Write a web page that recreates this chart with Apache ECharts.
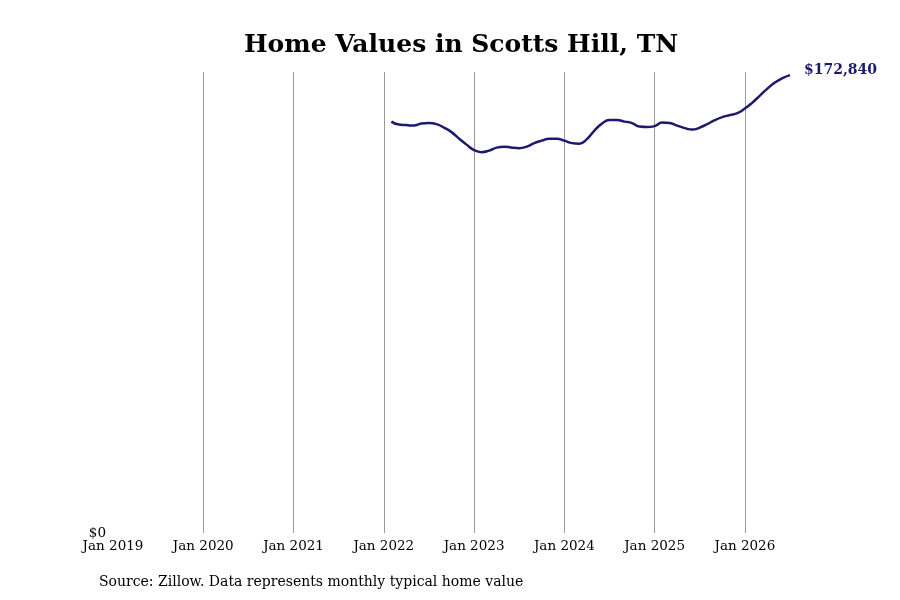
<!DOCTYPE html>
<html>
<head>
<meta charset="utf-8">
<script src="https://cdn.jsdelivr.net/npm/echarts@6/dist/echarts.min.js"></script>
<style>html,body{margin:0;padding:0;background:#fff}#c{width:900px;height:600px}</style>
</head>
<body>
<div id="c"></div>
<script>
// Axis spans Jan 2019 .. Jul 2026 (monthly)
const axisStartYear = 2019;
const axisMonthCount = 91;
// Series starts Feb 2022
const seriesStart = '2022-02';
const homeValues = [
  155276, 154142, 153953, 153765, 154520, 154709, 154331, 153009, 151309, 148853, 146586,
  144509, 143753, 144320, 145453, 145831, 145453, 145264, 145831, 147153, 148098, 148853, 148853,
  148098, 147153, 146964, 148664, 151876, 154520, 155843, 155843, 155276, 154709, 153387, 153198,
  153576, 154898, 154709, 153765, 152821, 152254, 153009, 154331, 155843, 156976, 157731, 158487,
  160187, 162454, 165099, 167743, 170010, 171710, 172840
];
const monthNames = ['Jan','Feb','Mar','Apr','May','Jun','Jul','Aug','Sep','Oct','Nov','Dec'];

const categories = [];
for (let i = 0; i < axisMonthCount; i++) {
  const y = axisStartYear + Math.floor(i / 12);
  const m = i % 12;
  categories.push(y + '-' + String(m + 1).padStart(2, '0'));
}
const startIdx = categories.indexOf(seriesStart);
const seriesData = categories.map((c, i) => {
  const k = i - startIdx;
  return (k >= 0 && k < homeValues.length) ? homeValues[k] : null;
});

const chart = echarts.init(document.getElementById('c'));
const font = 'DejaVu Serif';
const lineColor = '#1c1a6c';
chart.setOption({
  animation: false,
  backgroundColor: '#fff',
  title: {
    text: 'Home Values in Scotts Hill, TN',
    left: 456,
    top: 28,
    textAlign: 'center',
    textStyle: { fontFamily: font, fontSize: 25, fontWeight: 'bold', color: '#000' }
  },
  grid: { left: 113, right: 110, top: 72, bottom: 67 },
  xAxis: {
    type: 'category',
    data: categories,
    boundaryGap: false,
    axisLine: { show: false },
    axisTick: { show: false },
    axisLabel: {
      interval: 11,
      margin: 6,
      fontFamily: font, fontSize: 13.5, color: '#000',
      formatter: v => { const p = v.split('-'); return monthNames[+p[1] - 1] + ' ' + p[0]; }
    },
    splitLine: { show: true, interval: 11, showMinLine: false, lineStyle: { color: '#999', width: 1 } }
  },
  yAxis: {
    type: 'value',
    min: 0,
    max: 174000,
    interval: 29000,
    axisLine: { show: false },
    axisTick: { show: false },
    splitLine: { show: false },
    axisLabel: {
      margin: 7,
      fontFamily: font, fontSize: 13.5, color: '#000',
      formatter: v => v === 0 ? '$0' : ''
    }
  },
  series: [{
    type: 'line',
    data: seriesData,
    smooth: true,
    showSymbol: false,
    connectNulls: false,
    lineStyle: { color: lineColor, width: 2.5 },
    itemStyle: { color: lineColor },
    endLabel: {
      show: true,
      distance: 14,
      offset: [0, -5],
      fontFamily: font, fontSize: 14, fontWeight: 'bold', color: lineColor,
      formatter: p => '$' + p.value.toLocaleString('en-US')
    }
  }],
  graphic: [{
    type: 'text',
    left: 99,
    top: 575,
    style: {
      text: 'Source: Zillow. Data represents monthly typical home value',
      fontFamily: font, fontSize: 14, fill: '#000'
    }
  }]
});
</script>
</body>
</html>
